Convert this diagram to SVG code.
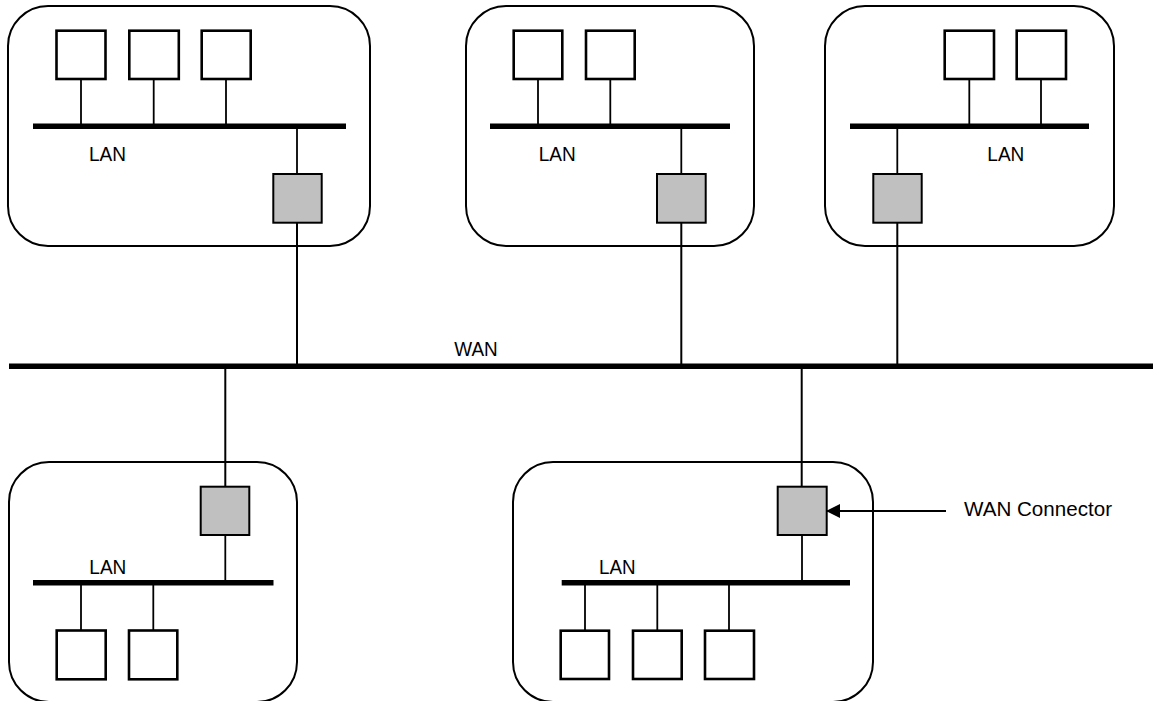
<svg xmlns="http://www.w3.org/2000/svg" width="1153" height="701" viewBox="0 0 1153 701">
  <defs>
    <style>
      .site { fill: #ffffff; stroke: #000000; stroke-width: 2; }
      .host { fill: #ffffff; stroke: #000000; stroke-width: 2.6; }
      .gw { fill: #c0c0c0; stroke: #000000; stroke-width: 2; }
      .bus { stroke: #000000; stroke-width: 5.6; fill: none; }
      .wire { stroke: #000000; stroke-width: 2; fill: none; }
      .stem { stroke: #000000; stroke-width: 1.8; fill: none; }
      .lbl { font-family: "Liberation Sans", Arial, sans-serif; font-size: 20px; fill: #000000; }
    </style>
    <marker id="arrowhead" viewBox="0 0 14 14" refX="13" refY="7" markerWidth="14" markerHeight="14" markerUnits="userSpaceOnUse" orient="auto">
      <path d="M0,0 L14,7 L0,14 Z" fill="#000000"/>
    </marker>
  </defs>

  <rect width="1153" height="701" fill="#ffffff"/>

  <!-- site containers -->
  <g id="site-top-left">
    <rect class="site" x="8" y="6" width="362" height="240" rx="40" ry="40"/>
  </g>
  <g id="site-top-middle">
    <rect class="site" x="466" y="6" width="288" height="240" rx="40" ry="40"/>
  </g>
  <g id="site-top-right">
    <rect class="site" x="825" y="6" width="289" height="240" rx="40" ry="40"/>
  </g>
  <g id="site-bottom-left">
    <rect class="site" x="9" y="462" width="288" height="240" rx="40" ry="40"/>
  </g>
  <g id="site-bottom-right">
    <rect class="site" x="513" y="462" width="360" height="240" rx="40" ry="40"/>
  </g>

  <!-- connectors: WAN links, LAN buses and host stems -->
  <g id="connectors">
    <!-- WAN backbone -->
    <line class="bus" x1="9" y1="366.3" x2="1153" y2="366.3"/>
    <!-- WAN drops -->
    <line class="wire" x1="297" y1="222" x2="297" y2="366"/>
    <line class="wire" x1="681.3" y1="222" x2="681.3" y2="366"/>
    <line class="wire" x1="897.3" y1="222" x2="897.3" y2="366"/>
    <line class="wire" x1="225.3" y1="366" x2="225.3" y2="487"/>
    <line class="wire" x1="801.7" y1="366" x2="801.7" y2="487"/>

    <!-- top-left LAN -->
    <line class="bus" x1="33" y1="126.3" x2="346" y2="126.3"/>
    <line class="stem" x1="81" y1="79" x2="81" y2="126"/>
    <line class="stem" x1="153.7" y1="79" x2="153.7" y2="126"/>
    <line class="stem" x1="226" y1="79" x2="226" y2="126"/>
    <line class="stem" x1="297" y1="126" x2="297" y2="174"/>

    <!-- top-middle LAN -->
    <line class="bus" x1="490" y1="126.3" x2="730" y2="126.3"/>
    <line class="stem" x1="538" y1="79" x2="538" y2="126"/>
    <line class="stem" x1="610.3" y1="79" x2="610.3" y2="126"/>
    <line class="stem" x1="681.3" y1="126" x2="681.3" y2="174"/>

    <!-- top-right LAN -->
    <line class="bus" x1="850" y1="126.3" x2="1089" y2="126.3"/>
    <line class="stem" x1="969.3" y1="79" x2="969.3" y2="126"/>
    <line class="stem" x1="1041" y1="79" x2="1041" y2="126"/>
    <line class="stem" x1="897.3" y1="126" x2="897.3" y2="174"/>

    <!-- bottom-left LAN -->
    <line class="bus" x1="33" y1="582.8" x2="273.5" y2="582.8"/>
    <line class="stem" x1="225.3" y1="535" x2="225.3" y2="583"/>
    <line class="stem" x1="81" y1="583" x2="81" y2="630.5"/>
    <line class="stem" x1="153.3" y1="583" x2="153.3" y2="630.5"/>

    <!-- bottom-right LAN -->
    <line class="bus" x1="561.7" y1="582.8" x2="850" y2="582.8"/>
    <line class="stem" x1="802" y1="535" x2="802" y2="583"/>
    <line class="stem" x1="585" y1="583" x2="585" y2="630.5"/>
    <line class="stem" x1="657.3" y1="583" x2="657.3" y2="630.5"/>
    <line class="stem" x1="729" y1="583" x2="729" y2="630.5"/>

    <!-- callout arrow -->
    <line class="wire" x1="946" y1="511" x2="827" y2="511" marker-end="url(#arrowhead)"/>
  </g>

  <!-- hosts -->
  <g id="hosts-top-left">
    <rect class="host" x="56.5" y="30.7" width="49" height="48.3"/>
    <rect class="host" x="129.3" y="30.7" width="49.5" height="48.3"/>
    <rect class="host" x="201.7" y="30.7" width="49" height="48.3"/>
  </g>
  <g id="hosts-top-middle">
    <rect class="host" x="513.7" y="30.7" width="48.6" height="48.3"/>
    <rect class="host" x="586" y="30.7" width="48.7" height="48.3"/>
  </g>
  <g id="hosts-top-right">
    <rect class="host" x="944.7" y="30.7" width="49.3" height="48.3"/>
    <rect class="host" x="1016.7" y="30.7" width="49.3" height="48.3"/>
  </g>
  <g id="hosts-bottom-left">
    <rect class="host" x="56.7" y="630.5" width="49" height="48.8"/>
    <rect class="host" x="129" y="630.5" width="48.3" height="48.8"/>
  </g>
  <g id="hosts-bottom-right">
    <rect class="host" x="560.7" y="630.7" width="48.3" height="48.3"/>
    <rect class="host" x="633" y="630.7" width="48.7" height="48.3"/>
    <rect class="host" x="705" y="630.7" width="49" height="48.3"/>
  </g>

  <!-- WAN connectors (gateways) -->
  <g id="gateway-top-left">
    <rect class="gw" x="273.3" y="174" width="48.4" height="48.7"/>
  </g>
  <g id="gateway-top-middle">
    <rect class="gw" x="657" y="174" width="48.7" height="48.7"/>
  </g>
  <g id="gateway-top-right">
    <rect class="gw" x="873.3" y="174" width="48.4" height="48.7"/>
  </g>
  <g id="gateway-bottom-left">
    <rect class="gw" x="200.7" y="486.7" width="48.6" height="48.3"/>
  </g>
  <g id="gateway-bottom-right">
    <rect class="gw" x="777.7" y="486.7" width="49" height="48.3"/>
  </g>

  <!-- labels -->
  <g id="labels">
    <text class="lbl" x="89" y="160.7" textLength="37" lengthAdjust="spacingAndGlyphs">LAN</text>
    <text class="lbl" x="538.7" y="160.7" textLength="37" lengthAdjust="spacingAndGlyphs">LAN</text>
    <text class="lbl" x="987.3" y="160.7" textLength="37" lengthAdjust="spacingAndGlyphs">LAN</text>
    <text class="lbl" x="89.3" y="574.3" textLength="37" lengthAdjust="spacingAndGlyphs">LAN</text>
    <text class="lbl" x="599" y="574.3" textLength="36.5" lengthAdjust="spacingAndGlyphs">LAN</text>
    <text class="lbl" x="454.3" y="355.7" textLength="43.4" lengthAdjust="spacingAndGlyphs">WAN</text>
    <text class="lbl" x="964" y="516.3" textLength="148" lengthAdjust="spacingAndGlyphs">WAN Connector</text>
  </g>
</svg>
